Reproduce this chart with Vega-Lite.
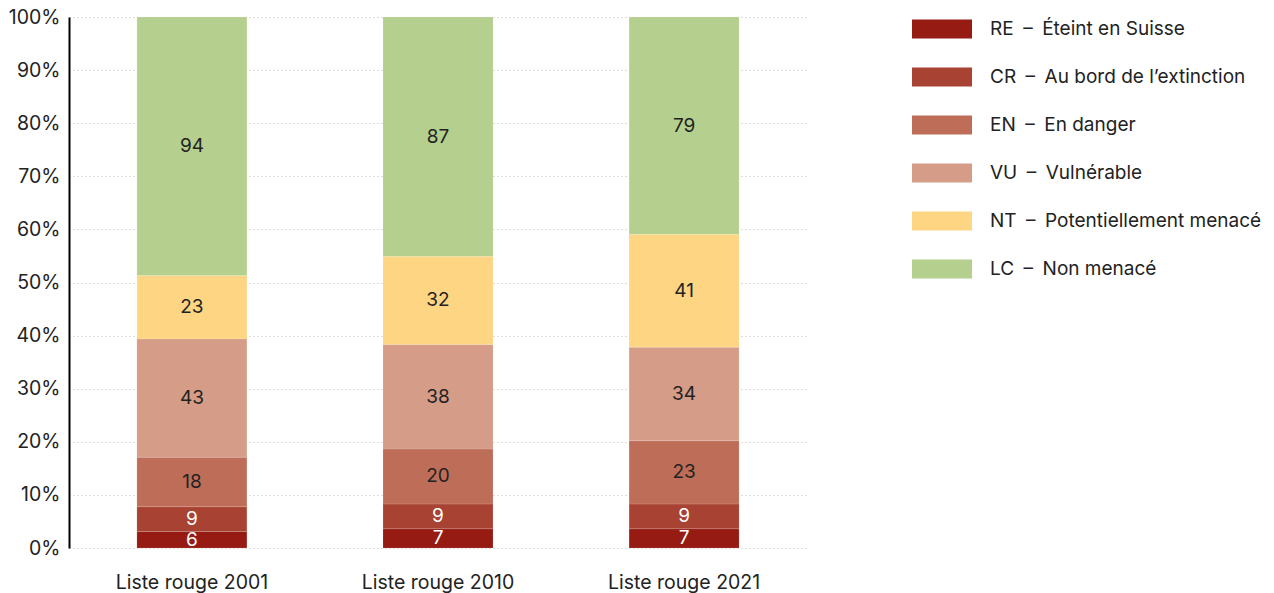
{
  "$schema": "https://vega.github.io/schema/vega-lite/v6.json",
  "width": 738,
  "height": 531,
  "autosize": {"type": "none"},
  "padding": {"left": 69, "top": 17, "right": 467, "bottom": 45},
  "config": {
    "font": "Inter",
    "view": {"stroke": null},
    "axis": {"labelFont": "Inter", "labelColor": "#222222"}
  },
  "data": {
    "values": [
      {"liste": "Liste rouge 2001", "code": "RE", "status": "RE – Éteint en Suisse", "order": 1, "n": 6},
      {"liste": "Liste rouge 2001", "code": "CR", "status": "CR – Au bord de l’extinction", "order": 2, "n": 9},
      {"liste": "Liste rouge 2001", "code": "EN", "status": "EN – En danger", "order": 3, "n": 18},
      {"liste": "Liste rouge 2001", "code": "VU", "status": "VU – Vulnérable", "order": 4, "n": 43},
      {"liste": "Liste rouge 2001", "code": "NT", "status": "NT – Potentiellement menacé", "order": 5, "n": 23},
      {"liste": "Liste rouge 2001", "code": "LC", "status": "LC – Non menacé", "order": 6, "n": 94},
      {"liste": "Liste rouge 2010", "code": "RE", "status": "RE – Éteint en Suisse", "order": 1, "n": 7},
      {"liste": "Liste rouge 2010", "code": "CR", "status": "CR – Au bord de l’extinction", "order": 2, "n": 9},
      {"liste": "Liste rouge 2010", "code": "EN", "status": "EN – En danger", "order": 3, "n": 20},
      {"liste": "Liste rouge 2010", "code": "VU", "status": "VU – Vulnérable", "order": 4, "n": 38},
      {"liste": "Liste rouge 2010", "code": "NT", "status": "NT – Potentiellement menacé", "order": 5, "n": 32},
      {"liste": "Liste rouge 2010", "code": "LC", "status": "LC – Non menacé", "order": 6, "n": 87},
      {"liste": "Liste rouge 2021", "code": "RE", "status": "RE – Éteint en Suisse", "order": 1, "n": 7},
      {"liste": "Liste rouge 2021", "code": "CR", "status": "CR – Au bord de l’extinction", "order": 2, "n": 9},
      {"liste": "Liste rouge 2021", "code": "EN", "status": "EN – En danger", "order": 3, "n": 23},
      {"liste": "Liste rouge 2021", "code": "VU", "status": "VU – Vulnérable", "order": 4, "n": 34},
      {"liste": "Liste rouge 2021", "code": "NT", "status": "NT – Potentiellement menacé", "order": 5, "n": 41},
      {"liste": "Liste rouge 2021", "code": "LC", "status": "LC – Non menacé", "order": 6, "n": 79}
    ]
  },
  "transform": [
    {"stack": "n", "groupby": ["liste"], "sort": [{"field": "order", "order": "ascending"}], "offset": "normalize", "as": ["y0", "y1"]},
    {"calculate": "(datum.y0 + datum.y1) / 2", "as": "ymid"}
  ],
  "encoding": {
    "x": {
      "field": "liste",
      "type": "nominal",
      "title": null,
      "scale": {"paddingInner": 0.553, "paddingOuter": 0.276},
      "axis": {"domain": false, "ticks": false, "labelAngle": 0, "labelFontSize": 19.5, "labelPadding": 25}
    }
  },
  "layer": [
    {
      "mark": {"type": "bar", "stroke": "#ffffff", "strokeWidth": 1, "strokeOpacity": 0.12},
      "encoding": {
        "y": {
          "field": "y0",
          "type": "quantitative",
          "title": null,
          "scale": {"domain": [0, 1], "nice": false},
          "axis": {
            "values": [0, 0.1, 0.2, 0.3, 0.4, 0.5, 0.6, 0.7, 0.8, 0.9, 1],
            "format": ".0%",
            "labelFontSize": 19.5,
            "labelPadding": 9,
            "ticks": false,
            "domain": true,
            "domainColor": "#000000",
            "domainWidth": 2,
            "grid": true,
            "gridColor": "#bdbdbd",
            "gridDash": [1, 3],
            "gridWidth": 1
          }
        },
        "y2": {"field": "y1"},
        "color": {
          "field": "status",
          "type": "nominal",
          "sort": ["RE – Éteint en Suisse", "CR – Au bord de l’extinction", "EN – En danger", "VU – Vulnérable", "NT – Potentiellement menacé", "LC – Non menacé"],
          "scale": {
            "domain": ["RE – Éteint en Suisse", "CR – Au bord de l’extinction", "EN – En danger", "VU – Vulnérable", "NT – Potentiellement menacé", "LC – Non menacé"],
            "range": ["#951b13", "#a84232", "#be6e58", "#d59c88", "#fed683", "#b5d08e"]
          },
          "legend": {
            "title": null,
            "orient": "none",
            "legendX": 843,
            "legendY": -18,
            "symbolType": "M-1,-0.32H1V0.32H-1Z",
            "symbolSize": 3600,
            "symbolStrokeWidth": 0,
            "labelExpr": "replace(datum.label, ' – ', '\u2002–\u2002')",
            "labelFontSize": 19,
            "labelColor": "#222222",
            "labelFont": "Inter",
            "labelOffset": 18,
            "labelLimit": 400,
            "rowPadding": 8,
            "padding": 0
          }
        }
      }
    },
    {
      "mark": {"type": "text", "fontSize": 19, "baseline": "middle", "align": "center"},
      "encoding": {
        "y": {"field": "ymid", "type": "quantitative"},
        "text": {"field": "n", "type": "quantitative"},
        "color": {
          "condition": {"test": "datum.code === 'RE' || datum.code === 'CR'", "value": "#ffffff"},
          "value": "#222222"
        }
      }
    }
  ]
}
